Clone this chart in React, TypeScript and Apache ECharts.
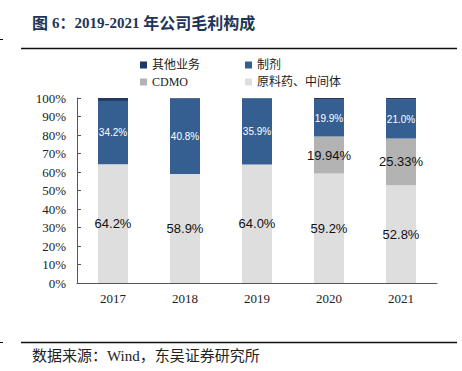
import React, { useEffect, useRef } from "react";
import * as echarts from "echarts";

const years = ["2017", "2018", "2019", "2020", "2021"];
const rawMaterial = [64.2, 58.9, 64.0, 59.2, 52.8];
const cdmo = [0, 0, 0, 19.94, 25.33];
const formulation = [34.2, 40.8, 35.9, 19.9, 21.0];
const otherBiz = [1.6, 0.3, 0.1, 1.0, 0.9];
const yTicks = [0, 10, 20, 30, 40, 50, 60, 70, 80, 90, 100];

const SERIF = "'Liberation Serif', 'Times New Roman', 'Noto Sans CJK SC', serif";
const SANS = "'Liberation Sans', Arial, sans-serif";

export default function App() {
  const ref = useRef<HTMLDivElement>(null);
  useEffect(() => {
    if (!ref.current) return;
    const chart = echarts.init(ref.current, undefined, { renderer: "svg" });
    const legendText = { fontSize: 12, fontFamily: SERIF, color: "#222" };
    chart.setOption({
      animation: false,
      backgroundColor: "#fff",
      graphic: [
        {
          type: "text",
          left: 32,
          top: 15,
          style: {
            text: "{c|图 }{l|6：2019-2021 }{c|年公司毛利构成}",
            fontFamily: SERIF,
            fill: "#1F3558",
            rich: {
              c: { fontSize: 16, fontWeight: "bold", fontFamily: SERIF, color: "#1F3558" },
              l: { fontSize: 15, fontWeight: "bold", fontFamily: SERIF, color: "#1F3558" },
            },
          },
        },
        { type: "line", shape: { x1: 21, y1: 48.5, x2: 457, y2: 48.5 }, style: { stroke: "#111", lineWidth: 1.5 } },
        { type: "line", shape: { x1: 0, y1: 39.5, x2: 3, y2: 39.5 }, style: { stroke: "#111", lineWidth: 1 } },
        { type: "line", shape: { x1: 21, y1: 342.5, x2: 457, y2: 342.5 }, style: { stroke: "#111", lineWidth: 1.5 } },
        { type: "line", shape: { x1: 0, y1: 342.5, x2: 3, y2: 342.5 }, style: { stroke: "#111", lineWidth: 1 } },
        {
          type: "text",
          left: 32,
          top: 348,
          style: {
            text: "数据来源：Wind，东吴证券研究所",
            fontSize: 15,
            fontFamily: SERIF,
            fill: "#222",
          },
        },
      ],
      legend: [
        {
          orient: "vertical",
          left: 135,
          top: 54,
          itemWidth: 7,
          itemHeight: 7,
          itemGap: 5,
          icon: "rect",
          textStyle: legendText,
          data: ["其他业务", "CDMO"],
        },
        {
          orient: "vertical",
          left: 240,
          top: 54,
          itemWidth: 7,
          itemHeight: 7,
          itemGap: 5,
          icon: "rect",
          textStyle: legendText,
          data: ["制剂", "原料药、中间体"],
        },
      ],
      grid: { left: 77, right: 25, top: 98, bottom: 88, containLabel: false },
      xAxis: {
        type: "category",
        data: years,
        axisLine: { lineStyle: { color: "#555", width: 1 } },
        axisTick: { inside: true, length: 4, lineStyle: { color: "#555" } },
        axisLabel: { fontSize: 13, fontFamily: SERIF, color: "#222", margin: 9 },
      },
      yAxis: {
        type: "value",
        min: 0,
        max: 100,
        interval: 10,
        axisLine: { show: true, lineStyle: { color: "#555", width: 1 } },
        axisTick: { show: true, inside: true, length: 4, lineStyle: { color: "#555" } },
        splitLine: { show: false },
        axisLabel: {
          fontSize: 13,
          fontFamily: SERIF,
          color: "#222",
          margin: 11,
          formatter: (v: number) => (yTicks.includes(v) ? v + "%" : ""),
        },
      },
      series: [
        {
          name: "原料药、中间体",
          type: "bar",
          stack: "t",
          barWidth: 30,
          data: rawMaterial,
          itemStyle: { color: "#DEDEDE" },
          label: {
            show: true,
            position: "inside",
            fontSize: 13,
            fontFamily: SANS,
            color: "#111",
            textBorderWidth: 0,
            formatter: (p: any) => p.value.toFixed(1) + "%",
          },
        },
        {
          name: "CDMO",
          type: "bar",
          stack: "t",
          barWidth: 30,
          data: cdmo,
          itemStyle: { color: "#B3B3B3" },
          label: {
            show: true,
            position: "inside",
            fontSize: 13,
            fontFamily: SANS,
            color: "#111",
            textBorderWidth: 0,
            formatter: (p: any) => (p.value > 0 ? p.value.toFixed(2) + "%" : ""),
          },
        },
        {
          name: "制剂",
          type: "bar",
          stack: "t",
          barWidth: 30,
          data: formulation,
          itemStyle: { color: "#365F91" },
          label: {
            show: true,
            position: "inside",
            fontSize: 10,
            fontWeight: "normal",
            fontFamily: SANS,
            color: "#fff",
            textBorderWidth: 0,
            formatter: (p: any) => p.value.toFixed(1) + "%",
          },
        },
        {
          name: "其他业务",
          type: "bar",
          stack: "t",
          barWidth: 30,
          data: otherBiz,
          itemStyle: { color: "#1F3864" },
        },
      ],
    });
    return () => chart.dispose();
  }, []);
  return (
    <div
      ref={ref}
      style={{ position: "fixed", left: 0, top: 0, width: 462, height: 371 }}
    />
  );
}
